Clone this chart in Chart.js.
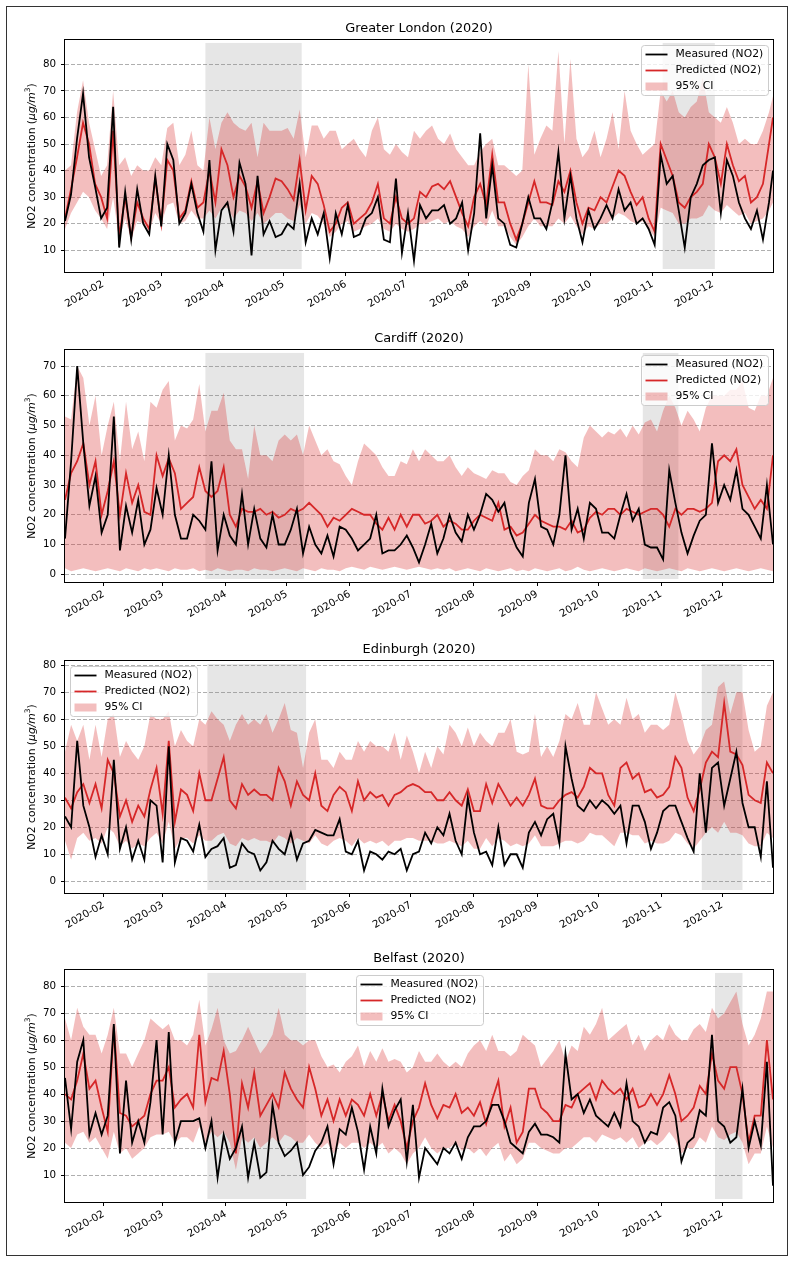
<!DOCTYPE html>
<html>
<head>
<meta charset="utf-8">
<script src="https://cdn.jsdelivr.net/npm/chart.js@4.4.0/dist/chart.umd.min.js"></script>
<style>
  html, body { margin: 0; padding: 0; background: #fff; }
  #frame { position: absolute; left: 6px; top: 6px; width: 780px; height: 1248px; border: 1px solid #333; }
  .panel { position: absolute; left: 0; width: 800px; height: 310px; }
</style>
</head>
<body>
<div id="frame"></div>
<div class="panel" style="top:0px"><canvas id="london"></canvas></div>
<div class="panel" style="top:310px"><canvas id="cardiff"></canvas></div>
<div class="panel" style="top:621px"><canvas id="edinburgh"></canvas></div>
<div class="panel" style="top:930px"><canvas id="belfast"></canvas></div>
<script>
// x values are day of year 2020 (Jan 1 = 0)
var monthTicks = [31, 60, 91, 121, 152, 182, 213, 244, 274, 305, 335];
var monthLabels = ["2020-02", "2020-03", "2020-04", "2020-05", "2020-06", "2020-07",
                   "2020-08", "2020-09", "2020-10", "2020-11", "2020-12"];
var legendLabels = ["Measured (NO2)", "Predicted (NO2)", "95% CI"];

var londonDays = [12,15,18,21,24,27,30,33,36,39, 42,45,48,51,54,57,60,63,66,69,
  72,75,78,81,84,87,90,93,96,99, 102,105,108,111,114,117,120,123,126,129,
  132,135,138,141,144,147,150,153,156,159, 162,165,168,171,174,177,180,183,186,189,
  192,195,198,201,204,207,210,213,216,219, 222,225,228,231,234,237,240,243,246,249,
  252,255,258,261,264,267,270,273,276,279, 282,285,288,291,294,297,300,303,306,309,
  312,315,318,321,324,327,330,333,336,339, 342,345,348,351,354,357,360,363,365];

var regionDays = [12,15,18,21,24,27,30,33,36,39, 42,45,48,51,54,57,60,63,66,69,
  72,75,78,81,84,87,90,93,96,99, 102,105,108,111,114,117,120,123,126,129,
  132,135,138,141,144,147,150,153,156,159, 162,165,168,171,174,177,180,183,186,189,
  192,195,198,201,204,207,210,213,216,219, 222,225,228,231,234,237,240,243,246,249,
  252,255,258,261,264,267,270,273,276,279, 282,285,288,291,294,297,300,303,306,309,
  312,315,318,321,324,327,330,333,336,339, 342,345,348,351,354,357,360];

// Greater London
var londonMeasured = [21,31,52,69,45,34,22,26,64,11, 32,14,33,20,16,38,19,50,44,20,
  24,35,24,17,44,10,25,28,17,43, 35,8,38,16,21,15,16,20,18,35,
  13,22,16,24,7,24,16,27,15,16, 22,24,30,14,13,37,9,24,6,27,
  22,25,25,27,20,22,28,10,24,54, 22,42,22,20,12,11,20,30,22,22,
  18,28,47,22,38,22,13,25,18,22, 27,22,33,25,28,20,22,18,12,46,
  35,38,25,11,30,35,42,44,45,24, 44,38,28,22,18,25,14,28,40];
var londonPredicted = [22,33,45,58,50,35,30,22,55,15, 30,15,28,22,18,37,20,44,40,22,
  25,36,26,28,40,28,48,42,30,38, 34,26,36,24,30,37,36,33,29,44,
  25,38,35,27,17,20,26,28,20,22, 24,28,35,22,20,30,22,20,22,32,
  30,34,35,33,36,30,24,19,30,35, 27,46,28,28,20,14,20,28,36,28,
  28,27,36,32,40,28,20,26,25,30, 28,34,40,38,32,27,30,22,17,50,
  44,38,28,26,30,32,35,50,45,35, 50,42,36,38,28,30,35,50,60];
var londonLower = [18,24,28,32,30,25,22,18,30,14, 22,14,21,20,17,24,20,27,28,20,
  21,25,22,22,25,22,26,26,22,25, 24,21,24,20,22,24,24,22,21,27,
  20,24,23,20,15,17,20,21,17,18, 19,20,22,18,17,20,18,17,18,20,
  20,21,22,20,21,19,18,15,19,21, 19,25,19,19,15,12,15,19,22,19,
  19,19,22,20,23,19,16,19,18,20, 20,22,24,23,21,20,21,18,15,26,
  25,24,20,20,22,22,23,27,25,24, 27,25,23,24,20,21,22,25,28];
var londonUpper = [40,42,62,74,58,48,38,42,70,42, 45,38,42,40,40,45,42,56,58,42,
  46,55,42,40,60,48,58,62,58,56, 55,58,45,58,55,55,55,56,52,63,
  45,57,57,52,55,55,48,50,52,48, 45,55,60,48,46,50,47,45,55,52,
  55,57,52,50,54,48,45,42,42,47, 50,52,42,42,40,38,40,80,46,52,
  57,55,85,50,82,52,45,48,55,45, 52,62,48,70,55,50,46,48,50,70,
  66,70,62,60,64,66,75,62,60,58, 64,58,50,52,50,50,55,62,68];

// Cardiff
var cardiffMeasured = [12,38,70,44,23,33,14,20,53,8, 23,14,25,10,15,29,20,40,20,12,
  12,20,18,15,38,8,20,13,10,27, 10,22,12,9,20,10,10,15,22,7,
  16,10,7,13,6,16,15,12,8,10, 12,20,7,8,8,10,13,9,4,10,
  17,7,12,20,14,11,20,15,20,27, 25,21,24,14,9,6,24,32,16,15,
  10,20,40,15,22,12,24,22,14,14, 12,20,27,18,22,10,9,9,5,35,
  24,14,7,13,18,20,44,24,30,25, 35,22,20,16,12,30,10];
var cardiffPredicted = [25,34,38,44,30,38,20,28,38,20, 34,24,30,21,20,40,33,39,34,22,
  24,26,36,28,26,28,36,20,16,22, 21,21,22,20,21,19,20,22,21,22,
  24,22,20,16,19,18,20,22,21,20, 20,17,15,19,15,20,16,20,20,17,
  18,20,16,18,17,15,15,18,20,19, 18,24,15,16,13,14,17,20,18,17,
  16,16,15,18,14,15,19,21,20,22, 22,20,22,21,20,21,22,22,20,16,
  22,20,22,22,21,22,24,38,40,38, 42,30,26,22,25,22,40];
var cardiffLower = [2,1,1.5,2,1.5,1,1.5,2,1.5,1, 2,1.5,1,2,1.5,2,1.5,1,2,1.5,
  1.5,2,1,1.5,1,2,1.5,1,1.5,1.5, 1,2,1.5,1.5,1,1.5,2,1.5,1,2,
  1.5,1,2,1.5,1.5,1,2,2.5,2,1.5, 2.5,2,1.5,2,2.5,2,1.5,2,2.5,2,
  1.5,2,1.5,2,1,1.5,2,1.5,1,2, 1.5,1,1.5,2,1,1.5,1,2,1.5,1,
  1.5,2,1,1.5,2.5,1.5,1,1.5,2,1.5, 1,1.5,2,1.5,1,2,1.5,1,1.5,2,
  1.5,1,2,1.5,1,1.5,2,1.5,1,1.5, 2,1.5,1,1.5,2,1.5,1];
var cardiffUpper = [53,52,70,66,50,60,40,50,58,38, 58,42,48,38,58,56,62,65,45,50,
  49,52,64,48,55,55,61,45,42,42, 32,50,40,40,38,45,47,45,47,40,
  50,45,40,42,38,37,33,30,38,44, 42,40,36,33,33,38,37,42,38,42,
  40,38,38,40,36,33,36,34,33,32, 35,34,34,31,30,33,35,42,40,40,
  38,42,41,38,36,46,50,48,46,48, 47,49,46,50,47,51,52,48,55,60,
  56,50,55,52,48,56,60,60,60,62, 62,65,56,55,60,60,66];

// Edinburgh
var edinburghMeasured = [24,20,52,28,20,9,17,10,45,12, 20,8,15,8,30,28,7,50,7,16,
  15,11,21,9,12,13,16,5,6,14, 11,10,4,7,15,12,10,18,8,14,
  15,19,18,17,17,23,11,10,15,4, 11,10,8,11,10,12,4,10,11,18,
  14,20,17,25,15,10,31,18,10,11, 6,20,6,10,10,5,18,22,17,23,
  25,14,50,38,28,26,30,27,30,28, 25,28,14,28,28,22,12,18,26,28,
  28,22,16,11,40,18,42,44,28,38, 48,29,20,20,9,37,5];
var edinburghPredicted = [31,27,33,36,29,36,27,45,40,24, 30,22,28,24,34,42,25,52,22,34,
  32,26,40,30,30,38,46,30,27,36, 32,34,32,32,30,42,37,28,37,32,
  30,40,28,26,32,35,33,26,37,30, 33,31,32,28,32,33,35,36,35,33,
  33,30,30,33,30,28,34,26,26,36, 29,36,32,28,31,28,32,38,28,27,
  27,30,32,33,31,35,42,40,40,32, 28,42,44,38,40,33,34,31,32,35,
  46,42,31,26,34,44,48,46,66,48, 47,43,32,30,29,44,40];
var edinburghLower = [15,8,16,18,15,16,14,20,18,13, 15,12,14,13,16,18,14,22,12,16,
  16,14,17,15,15,17,18,14,13,16, 15,16,15,15,14,17,16,14,16,15,
  14,17,14,13,15,16,15,13,16,14, 15,14,15,13,15,15,16,16,15,15,
  15,14,14,15,14,13,15,12,12,16, 13,16,15,13,14,13,14,17,13,13,
  13,14,15,15,14,15,18,17,17,15, 13,18,18,17,17,14,15,14,14,15,
  18,17,14,12,15,18,20,18,22,18, 18,17,14,13,13,18,16];
var edinburghUpper = [48,58,52,58,45,58,46,60,62,46, 52,48,45,50,62,60,60,63,50,56,
  52,50,60,58,63,60,58,52,58,62, 58,60,58,62,55,60,66,56,55,42,
  55,60,45,45,42,48,45,45,52,48, 52,50,50,48,55,45,54,48,40,48,
  42,50,47,58,55,50,57,50,55,52, 50,55,55,60,48,47,48,62,46,50,
  46,52,62,60,66,58,58,70,64,58, 60,58,68,60,62,55,58,58,56,58,
  70,62,52,47,50,56,58,72,74,62, 70,70,56,48,50,65,70];

// Belfast
var belfastMeasured = [46,27,52,60,25,33,25,32,66,18, 45,22,30,22,37,60,25,63,22,30,
  30,30,31,20,30,9,25,16,20,28, 9,22,9,11,36,22,17,19,22,10,
  13,19,22,28,14,27,25,35,26,12, 28,18,42,28,34,38,15,36,9,20,
  17,14,20,18,22,16,24,28,28,30, 36,36,30,22,20,18,26,29,25,25,
  24,22,55,38,40,33,38,32,30,28, 33,28,44,30,28,22,26,25,35,37,
  32,15,22,24,34,32,62,30,28,22, 24,42,20,30,21,52,6];
var belfastPredicted = [40,38,45,55,42,45,35,26,65,33, 32,28,30,32,40,45,45,50,35,38,
  40,35,62,37,46,45,56,40,18,44, 35,48,32,36,40,35,48,42,38,35,
  50,42,32,38,30,38,32,38,36,32, 40,32,40,30,36,30,20,30,35,44,
  36,31,36,35,40,33,35,32,37,29, 38,45,28,35,22,26,42,42,35,33,
  30,30,36,35,40,42,44,38,45,42, 40,42,38,42,35,36,40,36,40,47,
  40,30,32,35,43,40,55,45,42,50, 50,40,22,32,32,60,38];
var belfastLower = [22,20,25,26,22,24,20,16,26,18, 20,16,18,20,24,25,25,26,22,24,
  24,22,28,22,26,24,26,22,12,24, 22,24,20,22,24,22,25,24,22,22,
  25,22,20,22,18,22,20,22,22,20, 22,20,22,18,20,18,14,18,20,24,
  20,18,20,20,22,19,20,18,20,17, 20,22,15,18,14,16,22,22,20,19,
  18,18,20,20,22,24,24,22,25,24, 23,24,22,24,20,22,23,21,23,26,
  23,18,20,20,24,22,28,24,23,25, 26,22,14,18,18,28,20];
var belfastUpper = [68,60,72,65,62,62,55,62,72,55, 55,50,55,60,68,66,64,66,60,60,
  58,62,75,58,64,72,60,55,56,60, 65,60,55,58,62,72,62,60,60,58,
  60,60,54,50,51,48,52,54,58,50, 56,52,57,52,53,52,48,50,56,52,
  52,55,52,50,52,50,55,58,60,56, 62,56,56,54,56,62,60,58,50,53,
  56,60,52,58,56,65,62,66,72,60, 62,64,66,58,62,56,60,62,60,66,
  62,60,60,64,66,63,72,68,70,74, 78,66,58,62,68,78,78];

var londonTicks = [10, 20, 30, 40, 50, 60, 70, 80];
var cardiffTicks = [0, 10, 20, 30, 40, 50, 60, 70];
var edinburghTicks = [0, 10, 20, 30, 40, 50, 60, 70, 80];
var belfastTicks = [10, 20, 30, 40, 50, 60, 70, 80];

// lockdown periods (day of year)
var londonSpans = [[82, 130], [310, 336]];
var cardiffSpans = [[81, 129.5], [296, 313.5]];
var edinburghSpans = [[82, 130.5], [325, 345]];
var belfastSpans = [[82, 130.5], [331.5, 345]];

Chart.defaults.font.family = "'DejaVu Sans', sans-serif";
Chart.defaults.color = "#000";

var spanPlugin = {
    id: "spans",
    beforeDatasetsDraw: function (chart, args, opts) {
        var ctx = chart.ctx, a = chart.chartArea, x = chart.scales.x;
        ctx.save();
        ctx.fillStyle = "rgba(128,128,128,0.2)";
        opts.list.forEach(function (s) {
            var x0 = x.getPixelForValue(s[0]), x1 = x.getPixelForValue(s[1]);
            ctx.fillRect(x0, a.top + 3, x1 - x0, a.bottom - a.top - 6);
        });
        ctx.restore();
    }
};

var framePlugin = {
    id: "frame",
    afterDatasetsDraw: function (chart) {
        var ctx = chart.ctx, a = chart.chartArea;
        ctx.save();
        ctx.strokeStyle = "#000";
        ctx.lineWidth = 1;
        ctx.strokeRect(Math.round(a.left) - 0.5, Math.round(a.top) - 0.5,
                       Math.round(a.right - a.left) + 1, Math.round(a.bottom - a.top) + 1);
        ctx.restore();
    }
};

// y label with the italic unit, as matplotlib mathtext draws it
var yTitlePlugin = {
    id: "yTitle",
    afterDraw: function (chart) {
        var ctx = chart.ctx, a = chart.chartArea;
        var parts = [
            ["NO2 concentration (", "10.75px 'DejaVu Sans'", 0],
            ["μg/m", "italic 10.75px 'DejaVu Sans'", 0],
            ["3", "7.5px 'DejaVu Sans'", -4],
            [")", "10.75px 'DejaVu Sans'", 0]
        ];
        ctx.save();
        var total = 0;
        parts.forEach(function (p) { ctx.font = p[1]; p.push(ctx.measureText(p[0]).width); total += p[3]; });
        ctx.translate(32, (a.top + a.bottom) / 2);
        ctx.rotate(-Math.PI / 2);
        ctx.fillStyle = "#000";
        ctx.textBaseline = "middle";
        var x = -total / 2;
        parts.forEach(function (p) {
            ctx.font = p[1];
            ctx.fillText(p[0], x, p[2]);
            x += p[3];
        });
        ctx.restore();
    }
};

var legendPlugin = {
    id: "boxLegend",
    afterDraw: function (chart, args, opts) {
        var ctx = chart.ctx, a = chart.chartArea;
        var w = 127, h = 50;
        var x = opts.pos === "ul" ? a.left + 5 : (opts.pos === "uc" ? (a.left + a.right) / 2 - w / 2 : a.right - 5 - w);
        var y = a.top + 5;
        x = Math.round(x) + 0.5; y = Math.round(y) + 0.5;
        ctx.save();
        ctx.fillStyle = "rgba(255,255,255,0.8)";
        ctx.strokeStyle = "#cccccc";
        ctx.lineWidth = 1;
        ctx.beginPath();
        ctx.roundRect(x, y, w, h, 3);
        ctx.fill();
        ctx.stroke();
        ctx.font = "10.75px 'DejaVu Sans'";
        ctx.textBaseline = "middle";
        legendLabels.forEach(function (label, i) {
            var cy = y + 9 + i * 16;
            if (i < 2) {
                ctx.strokeStyle = i === 0 ? "#000" : "#d62728";
                ctx.lineWidth = 1.8;
                ctx.beginPath();
                ctx.moveTo(x + 4, cy);
                ctx.lineTo(x + 26, cy);
                ctx.stroke();
            } else {
                ctx.fillStyle = "rgba(214,39,40,0.3)";
                ctx.fillRect(x + 4, cy - 4, 22, 8);
            }
            ctx.fillStyle = "#000";
            ctx.fillText(label, x + 34, cy);
        });
        ctx.restore();
    }
};

function points(days, values) {
    return days.map(function (d, i) { return { x: d, y: values[i] }; });
}

function drawPanel(id, p) {
    new Chart(id, {
        type: "line",
        data: {
            datasets: [
                { label: legendLabels[0], data: points(p.days, p.measured), borderColor: "#000",
                  borderWidth: 1.8, pointRadius: 0, fill: false, tension: 0 },
                { label: legendLabels[1], data: points(p.days, p.predicted), borderColor: "#d62728",
                  borderWidth: 1.8, pointRadius: 0, fill: false, tension: 0 },
                { label: legendLabels[2], data: points(p.days, p.upper), borderColor: "rgba(0,0,0,0)",
                  borderWidth: 0, backgroundColor: "rgba(214,39,40,0.3)", pointRadius: 0, fill: "+1" },
                { label: "lower", data: points(p.days, p.lower), borderColor: "rgba(0,0,0,0)",
                  borderWidth: 0, pointRadius: 0, fill: false }
            ]
        },
        options: {
            responsive: true,
            maintainAspectRatio: false,
            animation: false,
            devicePixelRatio: 1,
            layout: { padding: { left: 0, right: 27, top: 0, bottom: 0 } },
            plugins: {
                legend: { display: false },
                tooltip: { enabled: false },
                title: { display: true, text: p.title, fullSize: false, color: "#000",
                         font: { size: 12.9, weight: "normal" }, padding: { top: 21.3, bottom: 3.2 } },
                spans: { list: p.spans },
                boxLegend: { pos: p.legendPos }
            },
            scales: {
                x: {
                    type: "linear", min: p.xMin, max: p.xMax,
                    afterBuildTicks: function (s) { s.ticks = monthTicks.map(function (v) { return { value: v }; }); },
                    afterFit: function (s) { s.height = 38; },
                    ticks: { minRotation: 30, maxRotation: 30, padding: 2, autoSkip: false,
                             font: { size: 10.3 }, color: "#000",
                             callback: function (v) { return monthLabels[monthTicks.indexOf(v)]; } },
                    grid: { drawOnChartArea: false, drawTicks: true, tickLength: 4, tickColor: "#000", tickWidth: 1 },
                    border: { display: false }
                },
                y: {
                    min: p.yMin, max: p.yMax,
                    afterBuildTicks: function (s) { s.ticks = p.yTicks.map(function (v) { return { value: v }; }); },
                    afterFit: function (s) { s.width = 65; },
                    ticks: { padding: 5, autoSkip: false, font: { size: 10.3 }, color: "#000" },
                    grid: { color: "#9a9a9a", lineWidth: 0.8, tickColor: "#000", tickLength: 4, tickWidth: 1, tickBorderDash: [] },
                    border: { display: false, dash: [4, 2] }
                }
            }
        },
        plugins: [spanPlugin, framePlugin, yTitlePlugin, legendPlugin]
    });
}

drawPanel("london", { title: "Greater London (2020)", days: londonDays, measured: londonMeasured,
    predicted: londonPredicted, lower: londonLower, upper: londonUpper, xMin: 12, xMax: 365,
    yMin: 1.8, yMax: 89.2, yTicks: londonTicks, spans: londonSpans, legendPos: "ur" });
drawPanel("cardiff", { title: "Cardiff (2020)", days: regionDays, measured: cardiffMeasured,
    predicted: cardiffPredicted, lower: cardiffLower, upper: cardiffUpper, xMin: 12, xMax: 360,
    yMin: -2.6, yMax: 75.4, yTicks: cardiffTicks, spans: cardiffSpans, legendPos: "ur" });
drawPanel("edinburgh", { title: "Edinburgh (2020)", days: regionDays, measured: edinburghMeasured,
    predicted: edinburghPredicted, lower: edinburghLower, upper: edinburghUpper, xMin: 12, xMax: 360,
    yMin: -4.35, yMax: 81.6, yTicks: edinburghTicks, spans: edinburghSpans, legendPos: "ul" });
drawPanel("belfast", { title: "Belfast (2020)", days: regionDays, measured: belfastMeasured,
    predicted: belfastPredicted, lower: belfastLower, upper: belfastUpper, xMin: 12, xMax: 360,
    yMin: 0, yMax: 86, yTicks: belfastTicks, spans: belfastSpans, legendPos: "uc" });
</script>
</body>
</html>
